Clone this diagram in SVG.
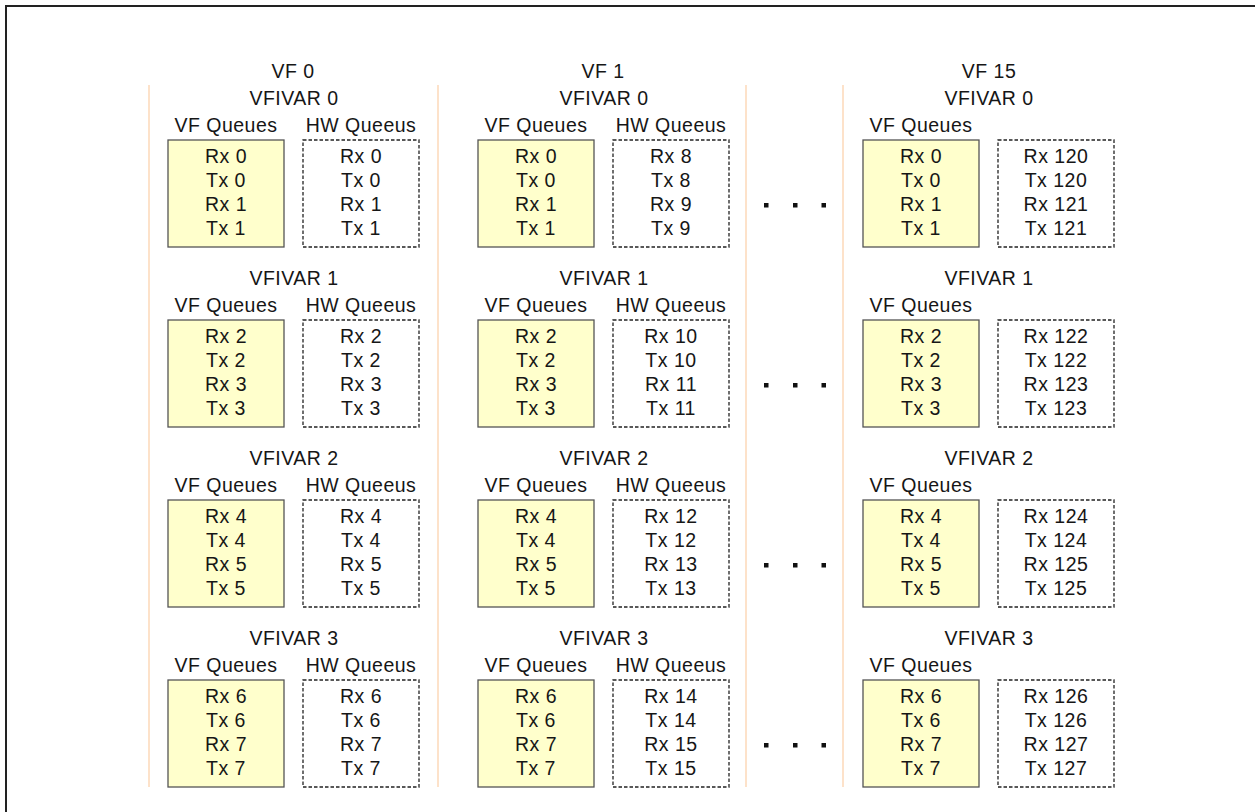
<svg xmlns="http://www.w3.org/2000/svg" width="1255" height="812" viewBox="0 0 1255 812">
<style>
text{font-family:"Liberation Sans",Arial,sans-serif;font-size:19.5px;fill:#161616;text-anchor:middle;letter-spacing:0.5px}
.vf{fill:#ffffcc;stroke:#555;stroke-width:1.3}
.hw{fill:#fff;stroke:#222;stroke-width:1.3;stroke-dasharray:3.5,2}
.sep{stroke:#fcd9b8;stroke-width:1.5;fill:none}
.dot{fill:#111}
</style>
<rect x="0" y="0" width="1255" height="812" fill="#fff"/>
<path d="M6,812 V6 H1255" fill="none" stroke="#222" stroke-width="2"/>
<g id="separators">
<line class="sep" x1="149" y1="85" x2="149" y2="787"/>
<line class="sep" x1="438" y1="85" x2="438" y2="787"/>
<line class="sep" x1="746" y1="85" x2="746" y2="787"/>
<line class="sep" x1="843" y1="85" x2="843" y2="787"/>
</g>
<g id="connectors"></g>
<!-- Column VF 0 -->
<g id="vf0">
<text x="293" y="78">VF 0</text>
<g id="vf0-ivar0">
<text x="294" y="105">VFIVAR 0</text>
<text x="226" y="132">VF Queues</text><text x="361" y="132">HW Queeus</text>
<rect class="vf" x="168" y="140" width="116" height="107"/>
<rect class="hw" x="303" y="140" width="116" height="107"/>
<text x="226" y="163">Rx 0</text><text x="226" y="187">Tx 0</text><text x="226" y="211">Rx 1</text><text x="226" y="235">Tx 1</text>
<text x="361" y="163">Rx 0</text><text x="361" y="187">Tx 0</text><text x="361" y="211">Rx 1</text><text x="361" y="235">Tx 1</text>
</g>
<g id="vf0-ivar1">
<text x="294" y="285">VFIVAR 1</text>
<text x="226" y="312">VF Queues</text><text x="361" y="312">HW Queeus</text>
<rect class="vf" x="168" y="320" width="116" height="107"/>
<rect class="hw" x="303" y="320" width="116" height="107"/>
<text x="226" y="343">Rx 2</text><text x="226" y="367">Tx 2</text><text x="226" y="391">Rx 3</text><text x="226" y="415">Tx 3</text>
<text x="361" y="343">Rx 2</text><text x="361" y="367">Tx 2</text><text x="361" y="391">Rx 3</text><text x="361" y="415">Tx 3</text>
</g>
<g id="vf0-ivar2">
<text x="294" y="465">VFIVAR 2</text>
<text x="226" y="492">VF Queues</text><text x="361" y="492">HW Queeus</text>
<rect class="vf" x="168" y="500" width="116" height="107"/>
<rect class="hw" x="303" y="500" width="116" height="107"/>
<text x="226" y="523">Rx 4</text><text x="226" y="547">Tx 4</text><text x="226" y="571">Rx 5</text><text x="226" y="595">Tx 5</text>
<text x="361" y="523">Rx 4</text><text x="361" y="547">Tx 4</text><text x="361" y="571">Rx 5</text><text x="361" y="595">Tx 5</text>
</g>
<g id="vf0-ivar3">
<text x="294" y="645">VFIVAR 3</text>
<text x="226" y="672">VF Queues</text><text x="361" y="672">HW Queeus</text>
<rect class="vf" x="168" y="680" width="116" height="107"/>
<rect class="hw" x="303" y="680" width="116" height="107"/>
<text x="226" y="703">Rx 6</text><text x="226" y="727">Tx 6</text><text x="226" y="751">Rx 7</text><text x="226" y="775">Tx 7</text>
<text x="361" y="703">Rx 6</text><text x="361" y="727">Tx 6</text><text x="361" y="751">Rx 7</text><text x="361" y="775">Tx 7</text>
</g>
</g>
<!-- Column VF 1 -->
<g id="vf1">
<text x="603" y="78">VF 1</text>
<g id="vf1-ivar0">
<text x="604" y="105">VFIVAR 0</text>
<text x="536" y="132">VF Queues</text><text x="671" y="132">HW Queeus</text>
<rect class="vf" x="478" y="140" width="116" height="107"/>
<rect class="hw" x="613" y="140" width="116" height="107"/>
<text x="536" y="163">Rx 0</text><text x="536" y="187">Tx 0</text><text x="536" y="211">Rx 1</text><text x="536" y="235">Tx 1</text>
<text x="671" y="163">Rx 8</text><text x="671" y="187">Tx 8</text><text x="671" y="211">Rx 9</text><text x="671" y="235">Tx 9</text>
</g>
<g id="vf1-ivar1">
<text x="604" y="285">VFIVAR 1</text>
<text x="536" y="312">VF Queues</text><text x="671" y="312">HW Queeus</text>
<rect class="vf" x="478" y="320" width="116" height="107"/>
<rect class="hw" x="613" y="320" width="116" height="107"/>
<text x="536" y="343">Rx 2</text><text x="536" y="367">Tx 2</text><text x="536" y="391">Rx 3</text><text x="536" y="415">Tx 3</text>
<text x="671" y="343">Rx 10</text><text x="671" y="367">Tx 10</text><text x="671" y="391">Rx 11</text><text x="671" y="415">Tx 11</text>
</g>
<g id="vf1-ivar2">
<text x="604" y="465">VFIVAR 2</text>
<text x="536" y="492">VF Queues</text><text x="671" y="492">HW Queeus</text>
<rect class="vf" x="478" y="500" width="116" height="107"/>
<rect class="hw" x="613" y="500" width="116" height="107"/>
<text x="536" y="523">Rx 4</text><text x="536" y="547">Tx 4</text><text x="536" y="571">Rx 5</text><text x="536" y="595">Tx 5</text>
<text x="671" y="523">Rx 12</text><text x="671" y="547">Tx 12</text><text x="671" y="571">Rx 13</text><text x="671" y="595">Tx 13</text>
</g>
<g id="vf1-ivar3">
<text x="604" y="645">VFIVAR 3</text>
<text x="536" y="672">VF Queues</text><text x="671" y="672">HW Queeus</text>
<rect class="vf" x="478" y="680" width="116" height="107"/>
<rect class="hw" x="613" y="680" width="116" height="107"/>
<text x="536" y="703">Rx 6</text><text x="536" y="727">Tx 6</text><text x="536" y="751">Rx 7</text><text x="536" y="775">Tx 7</text>
<text x="671" y="703">Rx 14</text><text x="671" y="727">Tx 14</text><text x="671" y="751">Rx 15</text><text x="671" y="775">Tx 15</text>
</g>
</g>
<!-- Ellipsis -->
<g id="ellipsis">
<rect class="dot" x="764" y="203" width="4.5" height="4.5"/><rect class="dot" x="793" y="203" width="4.5" height="4.5"/><rect class="dot" x="821.5" y="203" width="4.5" height="4.5"/>
<rect class="dot" x="764" y="383" width="4.5" height="4.5"/><rect class="dot" x="793" y="383" width="4.5" height="4.5"/><rect class="dot" x="821.5" y="383" width="4.5" height="4.5"/>
<rect class="dot" x="764" y="563" width="4.5" height="4.5"/><rect class="dot" x="793" y="563" width="4.5" height="4.5"/><rect class="dot" x="821.5" y="563" width="4.5" height="4.5"/>
<rect class="dot" x="764" y="743" width="4.5" height="4.5"/><rect class="dot" x="793" y="743" width="4.5" height="4.5"/><rect class="dot" x="821.5" y="743" width="4.5" height="4.5"/>
</g>
<!-- Column VF 15 -->
<g id="vf15">
<text x="989" y="78">VF 15</text>
<g id="vf15-ivar0">
<text x="989" y="105">VFIVAR 0</text>
<text x="921" y="132">VF Queues</text>
<rect class="vf" x="863" y="140" width="116" height="107"/>
<rect class="hw" x="998" y="140" width="116" height="107"/>
<text x="921" y="163">Rx 0</text><text x="921" y="187">Tx 0</text><text x="921" y="211">Rx 1</text><text x="921" y="235">Tx 1</text>
<text x="1056" y="163">Rx 120</text><text x="1056" y="187">Tx 120</text><text x="1056" y="211">Rx 121</text><text x="1056" y="235">Tx 121</text>
</g>
<g id="vf15-ivar1">
<text x="989" y="285">VFIVAR 1</text>
<text x="921" y="312">VF Queues</text>
<rect class="vf" x="863" y="320" width="116" height="107"/>
<rect class="hw" x="998" y="320" width="116" height="107"/>
<text x="921" y="343">Rx 2</text><text x="921" y="367">Tx 2</text><text x="921" y="391">Rx 3</text><text x="921" y="415">Tx 3</text>
<text x="1056" y="343">Rx 122</text><text x="1056" y="367">Tx 122</text><text x="1056" y="391">Rx 123</text><text x="1056" y="415">Tx 123</text>
</g>
<g id="vf15-ivar2">
<text x="989" y="465">VFIVAR 2</text>
<text x="921" y="492">VF Queues</text>
<rect class="vf" x="863" y="500" width="116" height="107"/>
<rect class="hw" x="998" y="500" width="116" height="107"/>
<text x="921" y="523">Rx 4</text><text x="921" y="547">Tx 4</text><text x="921" y="571">Rx 5</text><text x="921" y="595">Tx 5</text>
<text x="1056" y="523">Rx 124</text><text x="1056" y="547">Tx 124</text><text x="1056" y="571">Rx 125</text><text x="1056" y="595">Tx 125</text>
</g>
<g id="vf15-ivar3">
<text x="989" y="645">VFIVAR 3</text>
<text x="921" y="672">VF Queues</text>
<rect class="vf" x="863" y="680" width="116" height="107"/>
<rect class="hw" x="998" y="680" width="116" height="107"/>
<text x="921" y="703">Rx 6</text><text x="921" y="727">Tx 6</text><text x="921" y="751">Rx 7</text><text x="921" y="775">Tx 7</text>
<text x="1056" y="703">Rx 126</text><text x="1056" y="727">Tx 126</text><text x="1056" y="751">Rx 127</text><text x="1056" y="775">Tx 127</text>
</g>
</g>
</svg>
